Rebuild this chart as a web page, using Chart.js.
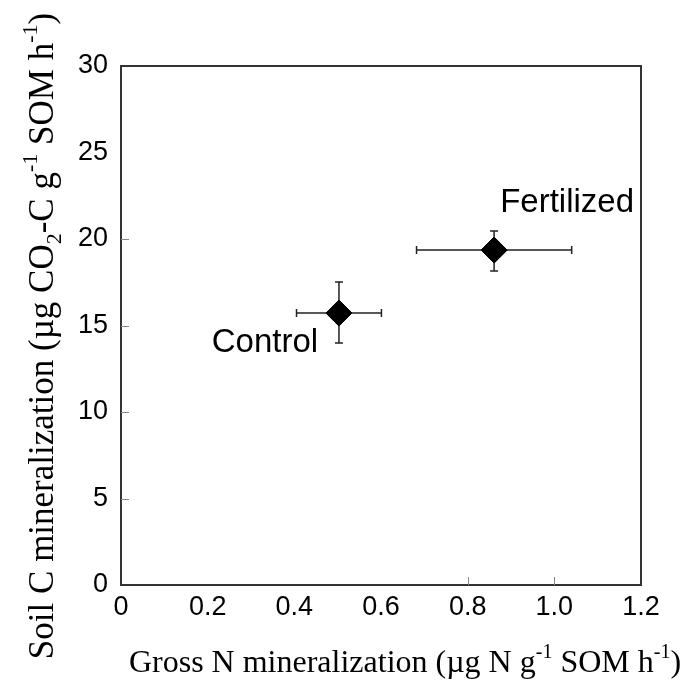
<!DOCTYPE html>
<html>
<head>
<meta charset="utf-8">
<script src="https://cdn.jsdelivr.net/npm/chart.js@4.4.1/dist/chart.umd.min.js"></script>
<style>
  html, body { margin: 0; padding: 0; background: #fff; }
  #wrap { width: 685px; height: 683px; }
</style>
</head>
<body>
<div id="wrap"><canvas id="chart" width="685" height="683"></canvas></div>
<script>
// dados
const treatments = ['Control', 'Fertilized'];
const grossN = [0.503, 0.861];        // eixo x
const grossNErr = [0.098, 0.179];     // erro em x
const soilC = [15.72, 19.36];         // eixo y
const soilCErrUp = [1.79, 1.10];
const soilCErrDown = [1.73, 1.21];
const xTicks = ['0', '0.2', '0.4', '0.6', '0.8', '1.0', '1.2'];
const yTicks = ['0', '5', '10', '15', '20', '25', '30'];

const ink = '#222';

// desenha texto com sobrescrito / subscrito
function richText(ctx, parts, size) {
  const small = Math.round(size * 0.62);
  let w = 0;
  parts.forEach(p => {
    ctx.font = (p.s ? small : size) + 'px "Liberation Serif", "Times New Roman", serif';
    p.w = ctx.measureText(p.t).width;
    w += p.w;
  });
  let x = -w / 2;
  parts.forEach(p => {
    ctx.font = (p.s ? small : size) + 'px "Liberation Serif", "Times New Roman", serif';
    let dy = 0;
    if (p.s === 'sup') dy = -size * 0.45;
    if (p.s === 'sub') dy = size * 0.22;
    ctx.fillText(p.t, x, dy);
    x += p.w;
  });
}

const decor = {
  id: 'decor',
  afterDraw(chart) {
    const ctx = chart.ctx;
    const a = chart.chartArea;
    const xs = chart.scales.x, ys = chart.scales.y;
    ctx.save();

    // moldura
    ctx.strokeStyle = '#333';
    ctx.lineWidth = 2;
    ctx.strokeRect(a.left, a.top, a.right - a.left, a.bottom - a.top);

    // marcas para dentro (só as que aparecem na figura)
    ctx.strokeStyle = '#888';
    ctx.lineWidth = 1;
    xs.ticks.forEach(t => {
      if (t.value !== 0.8 && t.value !== 1.0) return;
      const px = Math.round(xs.getPixelForValue(t.value)) + 0.5;
      ctx.beginPath(); ctx.moveTo(px, a.bottom); ctx.lineTo(px, a.bottom - 8); ctx.stroke();
    });
    ys.ticks.forEach(t => {
      if (t.value === 0 || t.value >= 25) return;
      const py = Math.round(ys.getPixelForValue(t.value)) + 0.5;
      ctx.beginPath(); ctx.moveTo(a.left, py); ctx.lineTo(a.left + 8, py); ctx.stroke();
    });

    // barras de erro
    ctx.strokeStyle = ink;
    ctx.lineWidth = 1.5;
    grossN.forEach((v, i) => {
      const cx = xs.getPixelForValue(v);
      const cy = ys.getPixelForValue(soilC[i]);
      const x1 = xs.getPixelForValue(v - grossNErr[i]);
      const x2 = xs.getPixelForValue(v + grossNErr[i]);
      const y1 = ys.getPixelForValue(soilC[i] + soilCErrUp[i]);
      const y2 = ys.getPixelForValue(soilC[i] - soilCErrDown[i]);
      ctx.beginPath();
      ctx.moveTo(x1, cy); ctx.lineTo(x2, cy);
      ctx.moveTo(x1, cy - 4); ctx.lineTo(x1, cy + 4);
      ctx.moveTo(x2, cy - 4); ctx.lineTo(x2, cy + 4);
      ctx.moveTo(cx, y1); ctx.lineTo(cx, y2);
      ctx.moveTo(cx - 4, y1); ctx.lineTo(cx + 4, y1);
      ctx.moveTo(cx - 4, y2); ctx.lineTo(cx + 4, y2);
      ctx.stroke();
    });

    // diamantes por cima das barras
    chart.getDatasetMeta(0).data.forEach(pt => pt.draw(ctx, a));

    // rótulos dos tratamentos
    ctx.fillStyle = '#000';
    ctx.font = '33px "Liberation Sans", Arial, sans-serif';
    ctx.textAlign = 'center';
    ctx.textBaseline = 'middle';
    const offs = [[-74, 30], [73, -47]];
    treatments.forEach((name, i) => {
      const px = xs.getPixelForValue(grossN[i]);
      const py = ys.getPixelForValue(soilC[i]);
      ctx.fillText(name, px + offs[i][0], py + offs[i][1]);
    });

    // títulos dos eixos
    ctx.textAlign = 'left';
    ctx.textBaseline = 'alphabetic';
    ctx.save();
    ctx.translate(405, 672);
    richText(ctx, [
      { t: 'Gross N mineralization (\u00b5g N g' },
      { t: '-1', s: 'sup' },
      { t: ' SOM h' },
      { t: '-1', s: 'sup' },
      { t: ')' }
    ], 32);
    ctx.restore();

    ctx.save();
    ctx.translate(53, 336);
    ctx.rotate(-Math.PI / 2);
    richText(ctx, [
      { t: 'Soil C mineralization (\u00b5g CO' },
      { t: '2', s: 'sub' },
      { t: '-C g' },
      { t: '-1', s: 'sup' },
      { t: ' SOM h' },
      { t: '-1', s: 'sup' },
      { t: ')' }
    ], 35);
    ctx.restore();

    ctx.restore();
  }
};

const ctx = document.getElementById('chart').getContext('2d');
const chart = new Chart(ctx, {
  type: 'scatter',
  data: {
    datasets: [{
      label: 'Treatments',
      data: grossN.map((v, i) => ({ x: v, y: soilC[i] })),
      pointStyle: 'rectRot',
      pointRadius: 13,
      pointHoverRadius: 13,
      backgroundColor: '#000',
      borderColor: '#000',
      borderWidth: 1
    }]
  },
  options: {
    responsive: false,
    animation: false,
    events: [],
    layout: { padding: { top: 66, right: 44, left: 0, bottom: 0 } },
    plugins: { legend: { display: false }, tooltip: { enabled: false } },
    scales: {
      x: {
        type: 'linear',
        min: 0, max: 1.2,
        afterFit(scale) { scale.height = 98; },
        afterBuildTicks(scale) {
          scale.ticks = xTicks.map(t => ({ value: parseFloat(t) }));
        },
        grid: { display: false, drawTicks: false },
        border: { display: false },
        ticks: {
          color: '#000',
          padding: 6,
          maxRotation: 0,
          font: { family: '"Liberation Sans", Arial, sans-serif', size: 27 },
          callback: (v, i) => xTicks[i]
        }
      },
      y: {
        type: 'linear',
        min: 0, max: 30,
        afterFit(scale) { scale.width = 121; },
        afterBuildTicks(scale) {
          scale.ticks = yTicks.map(t => ({ value: parseFloat(t) }));
        },
        grid: { display: false, drawTicks: false },
        border: { display: false },
        ticks: {
          color: '#000',
          padding: 13,
          font: { family: '"Liberation Sans", Arial, sans-serif', size: 27 },
          callback: (v, i) => yTicks[i]
        }
      }
    }
  },
  plugins: [decor]
});
</script>
</body>
</html>
